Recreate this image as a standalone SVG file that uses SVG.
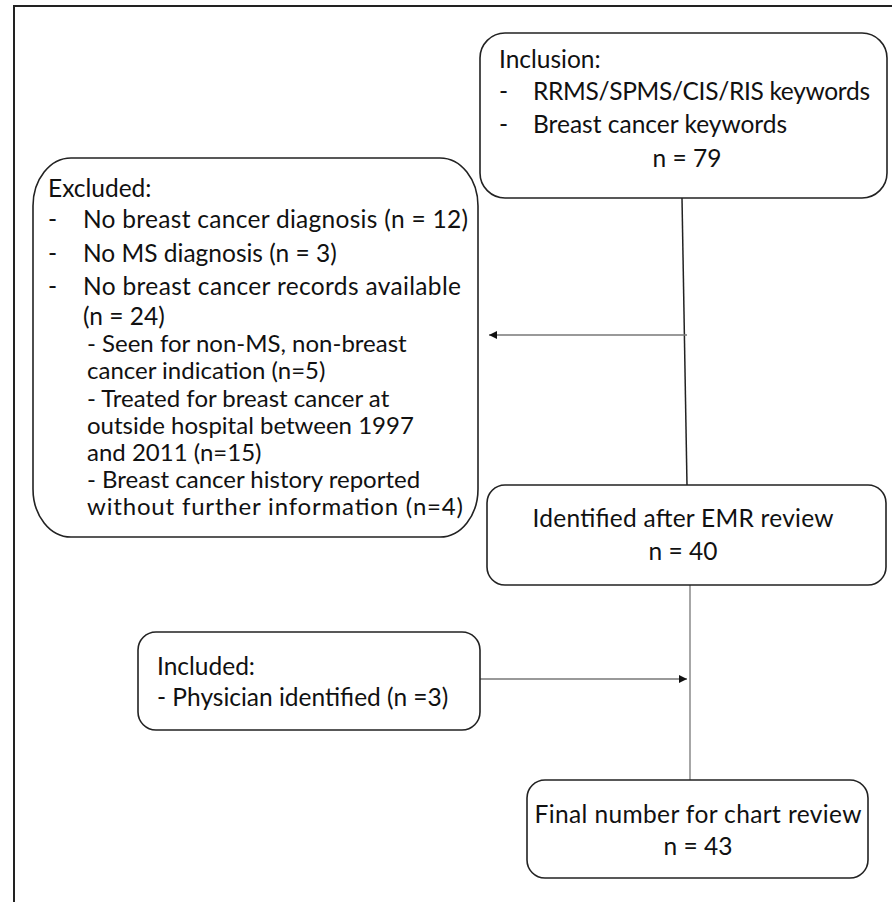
<svg xmlns="http://www.w3.org/2000/svg" width="892" height="902" viewBox="0 0 892 902">
<defs>
<style>
.box{fill:#fff;stroke:#222;stroke-width:1.6}
.t{font-family:Lato,"Open Sans","Liberation Sans",sans-serif;font-size:24.5px;fill:#111}
.s{font-size:24px}
.c{text-anchor:middle}
.line{stroke:#777;stroke-width:1.3;fill:none}
.dark{stroke:#222;stroke-width:1.5;fill:none}
</style>
<marker id="ah" viewBox="0 0 10 10" refX="10" refY="5" markerWidth="8" markerHeight="8" markerUnits="userSpaceOnUse" orient="auto">
<path d="M0,0 L10,5 L0,10 z" fill="#111"/>
</marker>
</defs>
<rect width="892" height="902" fill="#fff"/>
<path d="M14,902 L14,6 L892,6" fill="none" stroke="#222" stroke-width="2"/>
<g id="connectors">
<line class="dark" x1="682" y1="198" x2="687" y2="485"/>
<line class="line" x1="687" y1="335" x2="489" y2="335" marker-end="url(#ah)"/>
<line class="line" x1="690" y1="585" x2="690" y2="780"/>
<line class="line" x1="480" y1="679" x2="687" y2="679" marker-end="url(#ah)"/>
</g>
<g id="inclusion">
<rect class="box" x="480" y="33" width="407" height="165" rx="25" ry="25"/>
<text class="t" x="499" y="68">Inclusion:</text>
<text class="t" x="499" y="100">-</text>
<text class="t" x="533" y="100" textLength="337" lengthAdjust="spacing">RRMS/SPMS/CIS/RIS keywords</text>
<text class="t" x="499" y="133">-</text>
<text class="t" x="533" y="133">Breast cancer keywords</text>
<text class="t c" x="687" y="167">n = 79</text>
</g>
<g id="excluded">
<rect class="box" x="33" y="158" width="445" height="379" rx="38" ry="48"/>
<text class="t" x="48" y="197">Excluded:</text>
<text class="t" x="48" y="228">-</text>
<text class="t" x="83" y="228" textLength="385" lengthAdjust="spacing">No breast cancer diagnosis (n = 12)</text>
<text class="t" x="48" y="262">-</text>
<text class="t" x="83" y="262">No MS diagnosis (n = 3)</text>
<text class="t" x="48" y="295">-</text>
<text class="t" x="83" y="295" textLength="378" lengthAdjust="spacing">No breast cancer records available</text>
<text class="t" x="83" y="325">(n = 24)</text>
<text class="t s" x="87" y="352">- Seen for non-MS, non-breast</text>
<text class="t s" x="87" y="379">cancer indication (n=5)</text>
<text class="t s" x="87" y="407">- Treated for breast cancer at</text>
<text class="t s" x="87" y="434">outside hospital between 1997</text>
<text class="t s" x="87" y="461">and 2011 (n=15)</text>
<text class="t s" x="87" y="488">- Breast cancer history reported</text>
<text class="t s" x="87" y="515" textLength="376" lengthAdjust="spacing">without further information (n=4)</text>
</g>
<g id="identified">
<rect class="box" x="487" y="485" width="399" height="100" rx="18" ry="18"/>
<text class="t c" x="683" y="527" textLength="301" lengthAdjust="spacing">Identified after EMR review</text>
<text class="t c" x="683" y="560">n = 40</text>
</g>
<g id="included">
<rect class="box" x="138" y="632" width="342" height="98" rx="18" ry="18"/>
<text class="t" x="157" y="675">Included:</text>
<text class="t" x="157" y="706">- Physician identified (n =3)</text>
</g>
<g id="final">
<rect class="box" x="527" y="780" width="341" height="98" rx="18" ry="18"/>
<text class="t c" x="698" y="823" textLength="327" lengthAdjust="spacing">Final number for chart review</text>
<text class="t c" x="698" y="855">n = 43</text>
</g>
</svg>
